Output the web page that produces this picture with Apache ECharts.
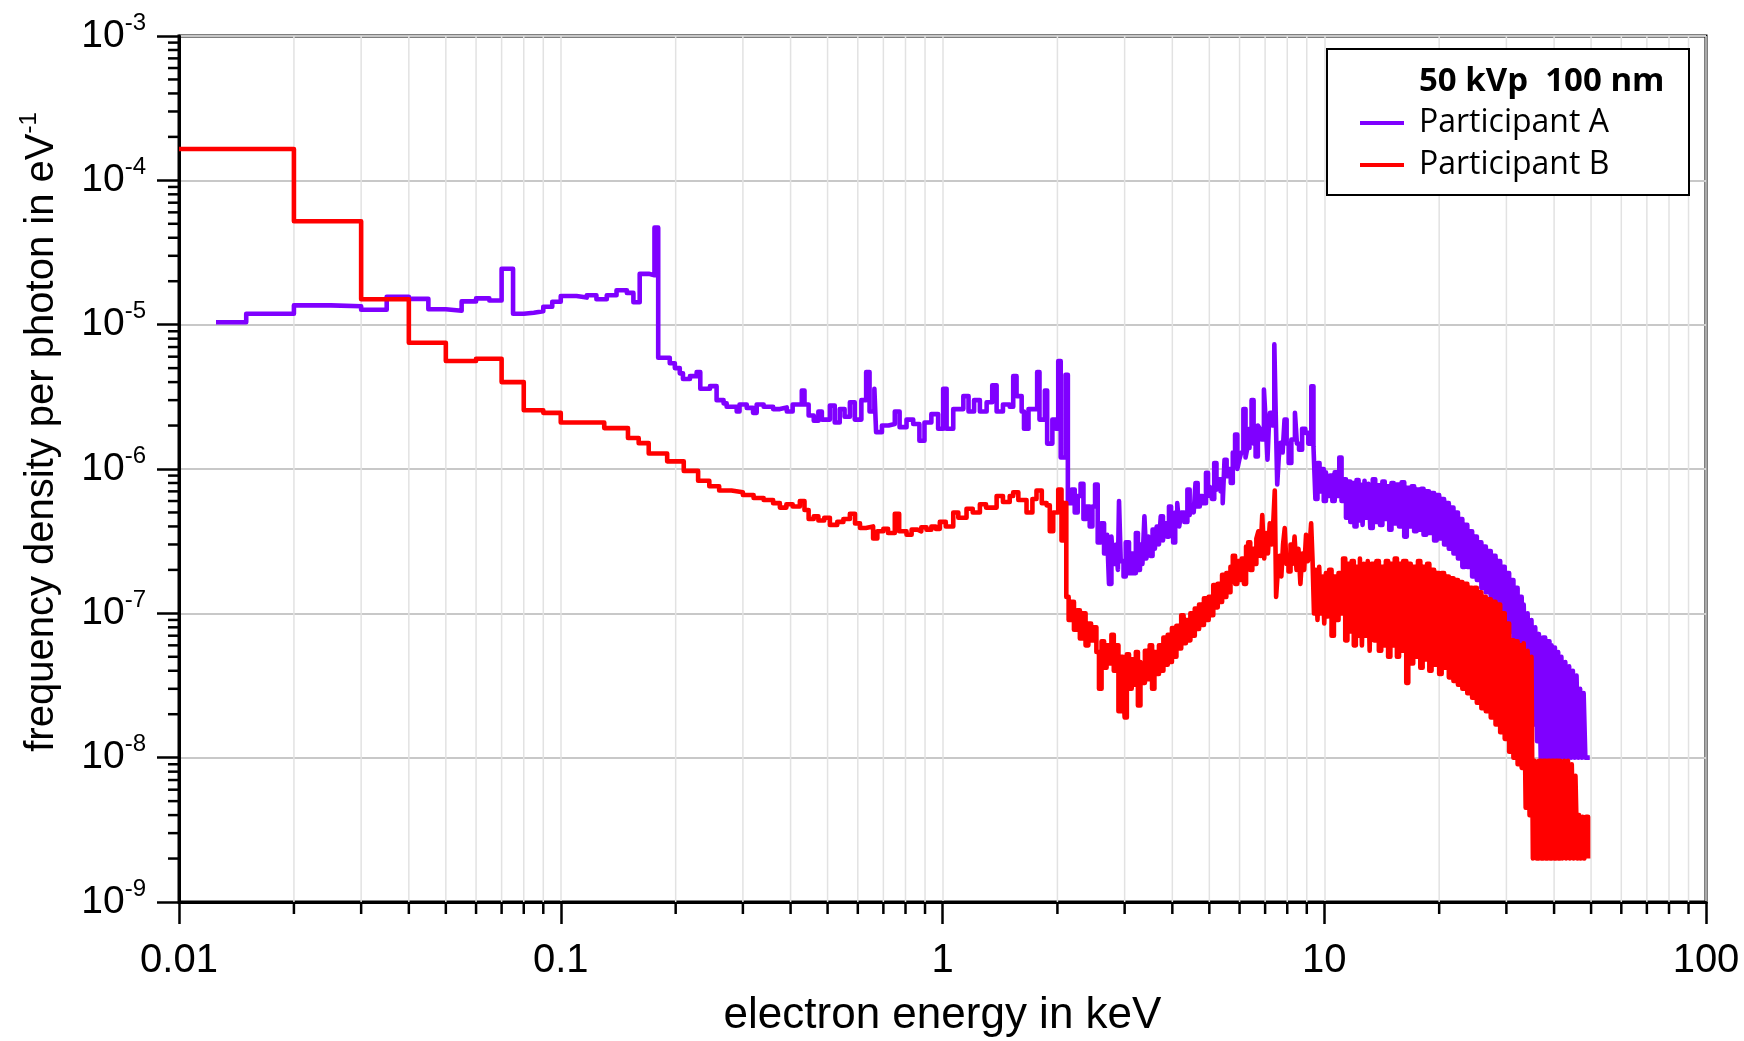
<!DOCTYPE html>
<html lang="en" style="height: 100%">
<head>
  <meta charset="utf-8">
</head>
<body style="height: 100%; margin: 0; background: #fff">
  <div id="container" style="width: 1744px; height: 1041px"></div>
  <script type="text/javascript" src="https://fastly.jsdelivr.net/npm/echarts@6.0.0/dist/echarts.min.js"></script>
  <script type="text/javascript">
    // tick labels
    var xTickValues = [0.01, 0.1, 1, 10, 100];
    var xTickLabels = ['0.01', '0.1', '1', '10', '100'];
    var yTickExponents = [-9, -8, -7, -6, -5, -4, -3];

    // [electron energy in keV, frequency density per photon in eV^-1], bin start + value
    var participantA = [
      [0.0125, 1.04e-5], [0.015, 1.19e-5], [0.02, 1.36e-5], [0.025, 1.34e-5], [0.03, 1.27e-5],
      [0.035, 1.56e-5], [0.04, 1.51e-5], [0.045, 1.28e-5], [0.05, 1.25e-5], [0.055, 1.45e-5],
      [0.06, 1.52e-5], [0.065, 1.47e-5], [0.07, 2.44e-5], [0.075, 1.19e-5], [0.08, 1.21e-5],
      [0.085, 1.24e-5], [0.09, 1.33e-5], [0.095, 1.44e-5], [0.1, 1.58e-5], [0.11, 1.54e-5],
      [0.117, 1.6e-5], [0.124, 1.5e-5], [0.132, 1.6e-5], [0.14, 1.73e-5], [0.149, 1.66e-5],
      [0.155, 1.43e-5], [0.161, 2.25e-5], [0.17, 2.2e-5], [0.176, 4.7e-5], [0.18, 5.9e-6],
      [0.193, 5.4e-6], [0.199, 5.0e-6], [0.205, 4.6e-6], [0.209, 4.2e-6], [0.218, 4.4e-6],
      [0.227, 4.7e-6], [0.232, 3.6e-6], [0.246, 3.75e-6], [0.256, 3.0e-6], [0.267, 2.85e-6],
      [0.272, 2.7e-6], [0.289, 2.5e-6], [0.294, 2.8e-6], [0.307, 2.65e-6], [0.319, 2.45e-6],
      [0.326, 2.8e-6], [0.34, 2.7e-6], [0.36, 2.6e-6], [0.375, 2.67e-6], [0.391, 2.5e-6],
      [0.405, 2.8e-6], [0.428, 3.5e-6], [0.435, 2.8e-6], [0.446, 2.35e-6], [0.46, 2.16e-6],
      [0.473, 2.5e-6], [0.483, 2.2e-6], [0.507, 2.75e-6], [0.522, 2.1e-6], [0.538, 2.6e-6],
      [0.554, 2.3e-6], [0.572, 2.9e-6], [0.589, 2.2e-6], [0.613, 3.0e-6], [0.631, 4.7e-6],
      [0.644, 2.5e-6], [0.663, 3.6e-6], [0.67, 1.8e-6], [0.694, 2.0e-6], [0.722, 2.05e-6],
      [0.75, 2.5e-6], [0.772, 1.95e-6], [0.805, 2.2e-6], [0.838, 2.05e-6], [0.87, 1.57e-6],
      [0.897, 2.1e-6], [0.935, 2.4e-6], [0.974, 1.9e-6], [1.004, 3.6e-6], [1.025, 1.9e-6],
      [1.067, 2.6e-6], [1.134, 3.2e-6], [1.17, 2.5e-6], [1.21, 3.0e-6], [1.253, 2.5e-6],
      [1.305, 2.9e-6], [1.35, 3.8e-6], [1.386, 2.5e-6], [1.44, 2.8e-6], [1.5, 2.7e-6],
      [1.532, 4.4e-6], [1.563, 3.2e-6], [1.612, 2.5e-6], [1.635, 1.9e-6], [1.68, 2.6e-6],
      [1.77, 4.7e-6], [1.795, 2.2e-6], [1.854, 3.5e-6], [1.88, 1.5e-6], [1.94, 2.2e-6],
      [1.98, 1.9e-6], [2.01, 5.6e-6], [2.04, 1.2e-6], [2.1, 4.5e-6], [2.13, 5.8e-7],
      [2.18, 7.2e-7], [2.22, 5.0e-7], [2.26, 6.5e-7], [2.3, 7.9e-7], [2.34, 4.5e-7],
      [2.38, 5.5e-7], [2.43, 4.0e-7], [2.47, 5.5e-7], [2.51, 7.8e-7], [2.55, 3.1e-7],
      [2.6, 4.2e-7], [2.65, 2.6e-7], [2.7, 3.5e-7], [2.73, 1.6e-7], [2.77, 3.4e-7],
      [2.8, 2.2e-7], [2.85, 3.0e-7], [2.88, 2.0e-7], [2.9, 6.0e-7], [2.93, 2.3e-7],
      [2.98, 1.8e-7], [3.02, 3.1e-7], [3.08, 1.9e-7], [3.13, 2.6e-7], [3.17, 1.9e-7],
      [3.21, 3.6e-7], [3.25, 2.0e-7], [3.29, 3.0e-7], [3.34, 2.2e-7], [3.38, 4.7e-7],
      [3.42, 2.4e-7], [3.46, 3.4e-7], [3.5, 2.5e-7], [3.55, 3.8e-7], [3.6, 2.8e-7],
      [3.64, 4.0e-7], [3.69, 3.0e-7], [3.73, 4.7e-7], [3.78, 3.2e-7], [3.82, 4.2e-7],
      [3.87, 3.4e-7], [3.92, 5.5e-7], [3.97, 3.6e-7], [4.02, 3.1e-7], [4.07, 5.0e-7],
      [4.12, 5.8e-7], [4.17, 4.0e-7], [4.22, 5.0e-7], [4.3, 4.3e-7], [4.38, 7.2e-7],
      [4.44, 4.8e-7], [4.49, 5.6e-7], [4.55, 5.0e-7], [4.6, 8.0e-7], [4.66, 5.5e-7],
      [4.72, 6.5e-7], [4.8, 5.8e-7], [4.9, 9.4e-7], [4.96, 6.5e-7], [5.02, 7.5e-7],
      [5.08, 6.2e-7], [5.15, 1.1e-6], [5.22, 7.2e-7], [5.28, 8.5e-7], [5.35, 7.0e-7],
      [5.42, 5.8e-7], [5.48, 1.16e-6], [5.55, 8.9e-7], [5.62, 1.0e-6], [5.69, 8.0e-7],
      [5.76, 1.3e-6], [5.84, 1.73e-6], [5.92, 1.0e-6], [5.99, 1.16e-6], [6.06, 1.3e-6],
      [6.14, 2.6e-6], [6.22, 1.2e-6], [6.29, 1.4e-6], [6.37, 1.9e-6], [6.45, 3.0e-6],
      [6.53, 1.5e-6], [6.61, 1.22e-6], [6.7, 2.0e-6], [6.78, 1.9e-6], [6.86, 1.6e-6],
      [6.95, 3.55e-6], [7.02, 2.2e-6], [7.1, 1.16e-6], [7.16, 2.0e-6], [7.21, 2.45e-6],
      [7.3, 2.0e-6], [7.4, 7.3e-6], [7.46, 2.5e-6], [7.53, 7.8e-7], [7.6, 1.2e-6],
      [7.68, 1.52e-6], [7.78, 1.3e-6], [7.87, 2.2e-6], [7.97, 1.5e-6], [8.07, 1.1e-6],
      [8.2, 1.6e-6], [8.38, 2.45e-6], [8.48, 1.5e-6], [8.59, 1.36e-6], [8.75, 1.9e-6],
      [8.92, 1.78e-6], [9.08, 1.5e-6], [9.25, 3.74e-6], [9.37, 1.44e-6], [9.48, 6.2e-7],
      [9.6, 1.1e-6], [9.72, 7.0e-7], [9.85, 1.0e-6], [9.97, 6.0e-7], [10.1, 9.5e-7],
      [10.2, 6.5e-7], [10.35, 9.0e-7], [10.5, 6.0e-7], [10.65, 9.5e-7], [10.8, 6.5e-7],
      [10.95, 1.2e-6], [11.1, 6.0e-7], [11.25, 8.5e-7], [11.4, 4.6e-7], [11.55, 8.2e-7],
      [11.7, 4.3e-7], [11.85, 8.0e-7], [12.0, 4.0e-7], [12.15, 8.4e-7], [12.3, 4.4e-7],
      [12.45, 7.8e-7], [12.6, 4.1e-7], [12.75, 8.3e-7], [12.9, 4.6e-7], [13.05, 7.9e-7],
      [13.2, 3.9e-7], [13.4, 8.5e-7], [13.6, 4.3e-7], [13.8, 7.7e-7], [14.0, 4.1e-7],
      [14.2, 8.2e-7], [14.4, 4.5e-7], [14.6, 7.6e-7], [14.8, 3.8e-7], [15.0, 8.0e-7],
      [15.2, 4.2e-7], [15.45, 7.8e-7], [15.7, 4.0e-7], [15.95, 8.1e-7], [16.2, 3.4e-7],
      [16.45, 7.4e-7], [16.7, 4.0e-7], [16.95, 7.6e-7], [17.2, 3.7e-7], [17.45, 7.2e-7],
      [17.7, 3.8e-7], [17.95, 7.3e-7], [18.2, 3.5e-7], [18.5, 7.0e-7], [18.8, 3.6e-7],
      [19.1, 6.8e-7], [19.4, 3.2e-7], [19.7, 6.6e-7], [20.0, 3.3e-7], [20.3, 6.2e-7],
      [20.6, 3.0e-7], [20.9, 5.8e-7], [21.2, 2.8e-7], [21.5, 5.4e-7], [21.8, 2.6e-7],
      [22.1, 5.0e-7], [22.4, 2.4e-7], [22.7, 4.5e-7], [23.0, 2.1e-7], [23.35, 4.1e-7],
      [23.7, 2.1e-7], [24.05, 3.7e-7], [24.4, 1.8e-7], [24.75, 3.4e-7], [25.1, 1.7e-7],
      [25.45, 3.1e-7], [25.8, 1.5e-7], [26.15, 2.9e-7], [26.5, 1.4e-7], [26.9, 2.7e-7],
      [27.3, 1.2e-7], [27.7, 2.5e-7], [28.1, 1.1e-7], [28.5, 2.3e-7], [28.9, 9.5e-8],
      [29.3, 2.1e-7], [29.7, 8.5e-8], [30.1, 1.9e-7], [30.5, 7.5e-8], [30.9, 1.7e-7],
      [31.3, 6.0e-8], [31.7, 1.5e-7], [32.1, 5.0e-8], [32.5, 1.3e-7], [32.9, 4.0e-8],
      [33.3, 1.15e-7], [33.7, 3.0e-8], [34.1, 1.0e-7], [34.5, 2.2e-8], [34.9, 9.0e-8],
      [35.3, 1.7e-8], [35.7, 8.0e-8], [36.1, 1.3e-8], [36.5, 7.2e-8], [36.9, 1.0e-8],
      [37.4, 6.8e-8], [37.9, 1.0e-8], [38.4, 6.4e-8], [38.9, 1.0e-8], [39.4, 6.0e-8],
      [39.8, 1.0e-8], [40.2, 5.8e-8], [40.6, 1.0e-8], [41.0, 5.4e-8], [41.4, 1.0e-8],
      [41.8, 5.0e-8], [42.3, 1.0e-8], [42.8, 4.6e-8], [43.3, 1.0e-8], [43.8, 4.3e-8],
      [44.3, 1.0e-8], [44.8, 4.0e-8], [45.3, 1.0e-8], [45.8, 3.7e-8], [46.3, 1.0e-8],
      [46.8, 3.0e-8], [47.3, 1.0e-8], [47.8, 2.8e-8], [48.3, 1.0e-8], [49.6, 1.0e-8]
    ];

    var participantB = [
      [0.01, 1.65e-4], [0.02, 5.2e-5], [0.03, 1.5e-5], [0.04, 7.5e-6], [0.05, 5.6e-6],
      [0.06, 5.8e-6], [0.07, 4.0e-6], [0.08, 2.55e-6], [0.09, 2.45e-6], [0.1, 2.1e-6],
      [0.13, 1.92e-6], [0.15, 1.64e-6], [0.16, 1.51e-6], [0.17, 1.28e-6], [0.19, 1.13e-6],
      [0.21, 9.7e-7], [0.229, 8.3e-7], [0.245, 7.6e-7], [0.26, 7.1e-7], [0.28, 6.9e-7],
      [0.3, 6.6e-7], [0.32, 6.3e-7], [0.34, 6.1e-7], [0.36, 5.8e-7], [0.375, 5.4e-7],
      [0.39, 5.7e-7], [0.405, 5.5e-7], [0.423, 6.0e-7], [0.435, 5.2e-7], [0.446, 4.5e-7],
      [0.46, 4.7e-7], [0.473, 4.4e-7], [0.49, 4.6e-7], [0.507, 4.1e-7], [0.53, 4.3e-7],
      [0.55, 4.5e-7], [0.572, 4.9e-7], [0.59, 4.2e-7], [0.608, 3.9e-7], [0.63, 4.0e-7],
      [0.658, 3.3e-7], [0.675, 3.7e-7], [0.7, 3.85e-7], [0.72, 3.6e-7], [0.75, 4.9e-7],
      [0.77, 3.7e-7], [0.805, 3.5e-7], [0.83, 3.8e-7], [0.86, 3.7e-7], [0.88, 3.95e-7],
      [0.908, 3.8e-7], [0.935, 4.0e-7], [0.96, 3.85e-7], [0.984, 4.3e-7], [1.02, 4.0e-7],
      [1.067, 5.0e-7], [1.1, 4.6e-7], [1.156, 5.3e-7], [1.2, 5.0e-7], [1.253, 5.7e-7],
      [1.3, 5.4e-7], [1.386, 6.5e-7], [1.44, 5.9e-7], [1.5, 6.5e-7], [1.532, 6.9e-7],
      [1.58, 6.1e-7], [1.66, 5.0e-7], [1.72, 6.2e-7], [1.763, 7.1e-7], [1.82, 5.8e-7],
      [1.874, 5.6e-7], [1.91, 3.7e-7], [1.95, 5.0e-7], [2.01, 7.2e-7], [2.05, 3.2e-7],
      [2.08, 5.8e-7], [2.11, 1.3e-7], [2.14, 9.0e-8], [2.17, 1.2e-7], [2.21, 7.7e-8],
      [2.25, 1.05e-7], [2.29, 6.7e-8], [2.33, 1.0e-7], [2.37, 6.0e-8], [2.41, 8.5e-8],
      [2.45, 6.5e-8], [2.49, 8.0e-8], [2.53, 5.4e-8], [2.57, 3.0e-8], [2.61, 6.4e-8],
      [2.65, 4.2e-8], [2.69, 6.0e-8], [2.73, 4.5e-8], [2.77, 7.1e-8], [2.81, 4.0e-8],
      [2.85, 6.0e-8], [2.89, 2.1e-8], [2.93, 5.0e-8], [2.97, 3.2e-8], [3.0, 1.9e-8],
      [3.04, 5.2e-8], [3.08, 3.0e-8], [3.13, 4.8e-8], [3.17, 3.2e-8], [3.21, 5.4e-8],
      [3.25, 2.3e-8], [3.3, 4.6e-8], [3.34, 3.3e-8], [3.39, 5.5e-8], [3.44, 3.5e-8],
      [3.49, 6.0e-8], [3.54, 3.0e-8], [3.59, 5.4e-8], [3.64, 3.8e-8], [3.69, 6.0e-8],
      [3.74, 4.0e-8], [3.79, 6.8e-8], [3.84, 4.4e-8], [3.89, 7.1e-8], [3.94, 4.6e-8],
      [3.99, 7.9e-8], [4.04, 5.0e-8], [4.1, 8.2e-8], [4.16, 5.7e-8], [4.22, 9.7e-8],
      [4.28, 6.2e-8], [4.34, 9.0e-8], [4.4, 6.5e-8], [4.46, 1.0e-7], [4.52, 7.0e-8],
      [4.58, 1.08e-7], [4.64, 7.8e-8], [4.7, 1.15e-7], [4.77, 8.3e-8], [4.84, 1.27e-7],
      [4.91, 9.0e-8], [4.98, 1.3e-7], [5.05, 9.7e-8], [5.12, 1.57e-7], [5.19, 1.1e-7],
      [5.26, 1.6e-7], [5.33, 1.2e-7], [5.4, 1.85e-7], [5.47, 1.3e-7], [5.54, 1.9e-7],
      [5.61, 1.4e-7], [5.68, 2.1e-7], [5.76, 2.5e-7], [5.84, 1.6e-7], [5.92, 2.3e-7],
      [6.0, 1.7e-7], [6.08, 2.4e-7], [6.16, 1.6e-7], [6.24, 2.9e-7], [6.32, 3.1e-7],
      [6.4, 2.0e-7], [6.48, 2.8e-7], [6.56, 2.2e-7], [6.64, 3.3e-7], [6.72, 3.7e-7],
      [6.8, 2.5e-7], [6.88, 4.8e-7], [6.96, 2.4e-7], [7.04, 3.6e-7], [7.12, 2.6e-7],
      [7.2, 4.2e-7], [7.28, 3.0e-7], [7.36, 4.5e-7], [7.42, 7.1e-7], [7.48, 1.3e-7],
      [7.56, 2.0e-7], [7.64, 2.5e-7], [7.72, 1.8e-7], [7.8, 3.0e-7], [7.88, 3.9e-7],
      [7.96, 2.2e-7], [8.06, 1.95e-7], [8.16, 3.0e-7], [8.26, 2.2e-7], [8.36, 3.4e-7],
      [8.46, 2.0e-7], [8.56, 2.8e-7], [8.66, 1.6e-7], [8.76, 2.6e-7], [8.86, 2.0e-7],
      [8.96, 3.5e-7], [9.06, 2.3e-7], [9.16, 3.0e-7], [9.24, 4.2e-7], [9.32, 2.3e-7],
      [9.4, 1.0e-7], [9.5, 2.0e-7], [9.6, 9.0e-8], [9.7, 2.1e-7], [9.8, 1.0e-7],
      [9.9, 1.8e-7], [10.0, 8.5e-8], [10.1, 1.9e-7], [10.2, 9.5e-8], [10.3, 2.0e-7],
      [10.45, 7.0e-8], [10.6, 1.8e-7], [10.75, 9.0e-8], [10.9, 1.9e-7], [11.05, 1.0e-7],
      [11.2, 2.4e-7], [11.35, 6.5e-8], [11.5, 2.2e-7], [11.65, 7.5e-8], [11.8, 2.3e-7],
      [11.95, 6.0e-8], [12.1, 2.1e-7], [12.25, 7.0e-8], [12.4, 2.4e-7], [12.55, 6.0e-8],
      [12.7, 2.2e-7], [12.85, 7.0e-8], [13.0, 2.3e-7], [13.15, 5.5e-8], [13.3, 2.2e-7],
      [13.5, 6.5e-8], [13.7, 2.3e-7], [13.9, 5.5e-8], [14.1, 2.1e-7], [14.3, 6.0e-8],
      [14.5, 2.3e-7], [14.7, 5.0e-8], [14.9, 2.2e-7], [15.1, 6.0e-8], [15.3, 2.4e-7],
      [15.5, 5.0e-8], [15.7, 2.2e-7], [15.9, 5.5e-8], [16.1, 2.3e-7], [16.4, 3.3e-8],
      [16.6, 2.2e-7], [16.85, 4.5e-8], [17.1, 2.1e-7], [17.35, 5.0e-8], [17.6, 2.3e-7],
      [17.85, 4.2e-8], [18.1, 2.1e-7], [18.35, 4.8e-8], [18.6, 2.2e-7], [18.85, 4.0e-8],
      [19.1, 2.0e-7], [19.4, 4.4e-8], [19.7, 1.9e-7], [20.0, 3.8e-8], [20.3, 1.9e-7],
      [20.6, 4.2e-8], [20.9, 1.8e-7], [21.2, 3.6e-8], [21.5, 1.75e-7], [21.8, 3.4e-8],
      [22.1, 1.7e-7], [22.4, 3.2e-8], [22.7, 1.65e-7], [23.0, 3.0e-8], [23.35, 1.6e-7],
      [23.7, 2.8e-8], [24.05, 1.5e-7], [24.4, 2.6e-8], [24.75, 1.5e-7], [25.1, 2.4e-8],
      [25.45, 1.4e-7], [25.8, 2.2e-8], [26.15, 1.3e-7], [26.5, 2.1e-8], [26.9, 1.25e-7],
      [27.3, 1.9e-8], [27.7, 1.2e-7], [28.1, 1.7e-8], [28.5, 1.15e-7], [28.9, 1.5e-8],
      [29.3, 1.0e-7], [29.7, 1.35e-8], [30.1, 8.5e-8], [30.5, 1.1e-8], [30.9, 6.5e-8],
      [31.3, 1.0e-8], [31.7, 6.4e-8], [32.1, 9.0e-9], [32.5, 6.0e-8], [32.9, 8.5e-9],
      [33.3, 6.2e-8], [33.7, 4.5e-9], [34.1, 5.5e-8], [34.5, 4.0e-9], [34.9, 5.0e-8],
      [35.2, 2.0e-9], [35.6, 9.5e-9], [36.0, 2.0e-9], [36.5, 9.5e-9], [37.0, 2.0e-9],
      [37.5, 9.5e-9], [38.0, 2.0e-9], [38.5, 9.5e-9], [39.0, 2.0e-9], [39.5, 9.5e-9],
      [40.0, 2.0e-9], [40.5, 9.5e-9], [41.0, 2.0e-9], [41.5, 9.5e-9], [42.0, 2.0e-9],
      [42.5, 9.5e-9], [43.0, 2.0e-9], [43.5, 9.5e-9], [44.0, 2.0e-9], [44.5, 9.0e-9],
      [45.0, 2.0e-9], [45.5, 7.5e-9], [46.0, 2.0e-9], [46.5, 4.0e-9], [47.0, 2.0e-9],
      [47.5, 3.9e-9], [48.0, 2.0e-9], [48.5, 3.9e-9], [49.1, 2.0e-9]
    ];

    // minor tick positions 2..9 per decade
    var xMinor = [];
    [0.01, 0.1, 1, 10].forEach(function (d) {
      for (var m = 2; m <= 9; m++) xMinor.push([m * d, 1e-6]);
    });
    var yMinor = [];
    [1e-9, 1e-8, 1e-7, 1e-6, 1e-5, 1e-4].forEach(function (d) {
      for (var m = 2; m <= 9; m++) yMinor.push([1, m * d]);
    });

    var axisFont = 'Liberation Sans, Arial, sans-serif';
    var legendFont = 'Open Sans, Noto Sans, sans-serif';

    var dom = document.getElementById('container');
    var myChart = echarts.init(dom, null, { renderer: 'canvas' });

    var option = {
      animation: false,
      backgroundColor: '#fff',
      grid: {
        left: 179, right: 38, top: 36, bottom: 139,
        containLabel: false,
        outerBoundsMode: 'none',
        show: true,
        borderColor: '#000',
        borderWidth: 3
      },
      title: {
        text: '50 kVp  100 nm',
        left: 1419, top: 63, padding: 0, z: 20,
        textStyle: { fontFamily: legendFont, fontWeight: 'bold', fontSize: 33, lineHeight: 38, color: '#000' }
      },
      legend: {
        data: ['Participant A', 'Participant B'],
        orient: 'vertical',
        left: 1360, top: 106,
        padding: 0,
        itemWidth: 44, itemHeight: 4, itemGap: 8,
        icon: 'rect',
        z: 20,
        textStyle: { fontFamily: legendFont, fontSize: 32, lineHeight: 34, color: '#000', padding: [0, 0, 0, 10] }
      },
      graphic: [{
        type: 'rect', left: 1326, top: 48, z: 10,
        shape: { width: 362, height: 146 },
        style: { fill: '#fff', stroke: '#000', lineWidth: 2 }
      }],
      xAxis: {
        type: 'log', logBase: 10, min: 0.01, max: 100, splitNumber: 4,
        name: 'electron energy in keV',
        nameLocation: 'middle', nameGap: 92,
        nameTextStyle: { fontFamily: axisFont, fontSize: 44, color: '#000' },
        axisLine: { show: true, lineStyle: { color: '#000', width: 3 } },
        axisTick: { show: true, length: 22, lineStyle: { color: '#000', width: 2.5 } },
        axisLabel: {
          margin: 39, fontFamily: axisFont, fontSize: 40, color: '#000',
          showMinLabel: true, showMaxLabel: true,
          formatter: function (v) {
            for (var i = 0; i < xTickValues.length; i++) {
              if (Math.abs(Math.log10(v) - Math.log10(xTickValues[i])) < 1e-6) return xTickLabels[i];
            }
            return '';
          }
        },
        splitLine: { show: true, lineStyle: { color: '#e2e2e2', width: 1.5 } }
      },
      yAxis: {
        type: 'log', logBase: 10, min: 1e-9, max: 1e-3, splitNumber: 6,
        name: '{t|frequency density per photon in eV}{s|-1}',
        nameLocation: 'middle', nameGap: 112, nameRotate: 90,
        nameTextStyle: {
          padding: [0, 0, 0, 74],
          rich: {
            t: { fontFamily: axisFont, fontSize: 40, color: '#000', lineHeight: 50 },
            s: { fontFamily: axisFont, fontSize: 24, color: '#000', verticalAlign: 'top' }
          }
        },
        axisLine: { show: true, lineStyle: { color: '#000', width: 3 } },
        axisTick: { show: true, length: 22, lineStyle: { color: '#000', width: 2.5 } },
        axisLabel: {
          margin: 33,
          showMinLabel: true, showMaxLabel: true,
          formatter: function (v) {
            var e = Math.round(Math.log10(v));
            if (yTickExponents.indexOf(e) < 0) return '';
            return '{b|10}{s|' + e + '}';
          },
          rich: {
            b: { fontFamily: axisFont, fontSize: 39, color: '#000', lineHeight: 50 },
            s: { fontFamily: axisFont, fontSize: 24, color: '#000', verticalAlign: 'top' }
          }
        },
        splitLine: { show: true, lineStyle: { color: '#c8c8c8', width: 2 } }
      },
      series: [
        {
          name: 'xMinor',
          type: 'custom',
          silent: true,
          z: 1,
          data: xMinor,
          renderItem: function (params, api) {
            var cs = params.coordSys;
            var x = api.coord([api.value(0), api.value(1)])[0];
            var bottom = cs.y + cs.height;
            return {
              type: 'group',
              children: [
                { type: 'line', shape: { x1: x, y1: cs.y, x2: x, y2: bottom }, style: { stroke: '#e2e2e2', lineWidth: 1.5 } },
                { type: 'line', shape: { x1: x, y1: bottom, x2: x, y2: bottom + 12 }, style: { stroke: '#000', lineWidth: 2.5 } }
              ]
            };
          }
        },
        {
          name: 'yMinor',
          type: 'custom',
          silent: true,
          z: 1,
          data: yMinor,
          renderItem: function (params, api) {
            var cs = params.coordSys;
            var y = api.coord([api.value(0), api.value(1)])[1];
            return {
              type: 'line',
              shape: { x1: cs.x - 11, y1: y, x2: cs.x, y2: y },
              style: { stroke: '#000', lineWidth: 2.5 }
            };
          }
        },
        {
          name: 'Participant A',
          type: 'line',
          step: 'end',
          showSymbol: false,
          color: '#7f00ff',
          lineStyle: { width: 4.6, color: '#7f00ff', join: 'round' },
          data: participantA
        },
        {
          name: 'Participant B',
          type: 'line',
          step: 'end',
          showSymbol: false,
          color: '#ff0000',
          lineStyle: { width: 4.6, color: '#ff0000', join: 'round' },
          data: participantB
        }
      ]
    };

    myChart.setOption(option);
    window.addEventListener('resize', myChart.resize);
  </script>
</body>
</html>
